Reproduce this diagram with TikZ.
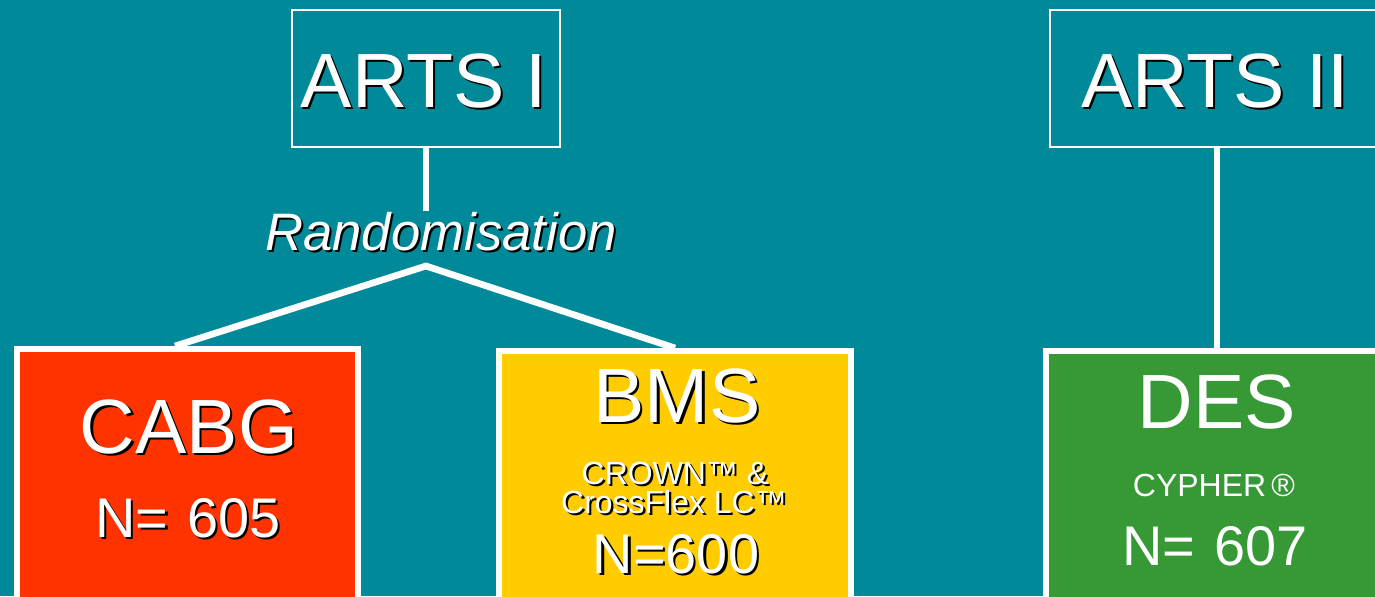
\documentclass[tikz,border=0pt]{standalone}
\usepackage{fontspec}
\setmainfont{Liberation Sans}
\usetikzlibrary{positioning}
\definecolor{bgc}{RGB}{0,138,153}
\definecolor{rd}{RGB}{255,51,0}
\definecolor{yl}{RGB}{255,204,0}
\definecolor{gr}{RGB}{54,153,54}
\newcommand\sh[1]{\makebox[0pt][l]{\kern1.2pt\raisebox{-1.2pt}[0pt][0pt]{\color{black}#1}}#1}
\tikzset{bx/.append style={draw=white,inner sep=0pt,line width=3.4pt}}
\tikzset{tb/.append style={draw=white,inner sep=0pt,line width=1.1pt,minimum height=2.74cm}}
\tikzset{lb/.append style={text=white,anchor=base,inner sep=0pt}}
\tikzset{hd/.append style={font=\fontsize{43.8}{50}\selectfont}}
\tikzset{nm/.append style={font=\fontsize{31.8}{36}\selectfont}}
\tikzset{sm/.append style={font=\fontsize{18.2}{22}\selectfont}}
\tikzset{ln/.append style={draw=white,line width=3.8pt}}

\begin{document}
\begin{tikzpicture}[x=0.02cm,y=-0.02cm]
                \fill[bgc] (0,0) rectangle (1375,596);
                \useasboundingbox (0,0) rectangle (1375,596);
                % boxes
                \node[tb,minimum width=5.36cm] (artsI) at (426,78.5) {};
                \node[tb,minimum width=6.68cm] (artsII) at (1217,78.5) {};
                \node[bx,fill=rd,minimum width=6.82cm,minimum height=6cm] (cabg) at (187.5,499) {};
                \node[bx,fill=yl,minimum width=7.04cm,minimum height=6cm] (bms) at (675,501) {};
                \node[bx,fill=gr,minimum width=6.88cm,minimum height=6cm] (des) at (1218,501) {};
                % texts
                \node[lb,hd] (tI) at (424,107) {\sh{ARTS I}};
                \node[lb,hd] (tII) at (1215,107) {\sh{ARTS II}};
                \node[lb,font=\fontsize{30}{34}\selectfont\itshape] (rnd) at (441,250) {\sh{Randomisation}};
                \node[lb,hd] (tcabg) at (189,453) {\sh{CABG}};
                \node[lb,nm] (ncabg) at (188,537) {\sh{N=\,\,605}};
                \node[lb,hd] (tbms) at (677,422) {\sh{BMS}};
                \node[lb,sm] (sbms1) at (675,484) {\sh{CROWN™ \&}};
                \node[lb,sm] (sbms2) at (674,513) {\sh{CrossFlex LC™}};
                \node[lb,nm] (nbms) at (676,573) {\sh{N=600}};
                \node[lb,hd] (tdes) at (1217,428) {DES};
                \node[lb,sm] (sdes) at (1214,496) {CYPHER\,®};
                \node[lb,nm] (ndes) at (1215,565) {N=\,\,607};
                % lines
                \coordinate (apex) at (426,266);
                \draw[ln] (artsI.south) -- (artsI.south |- rnd.north);
                \draw[ln] ([xshift=-0.25cm]cabg.north) -- (apex) -- (bms.north);
                \draw[ln] (artsII.south) -- (artsII.south |- des.north);
            \end{tikzpicture}
\end{document}
